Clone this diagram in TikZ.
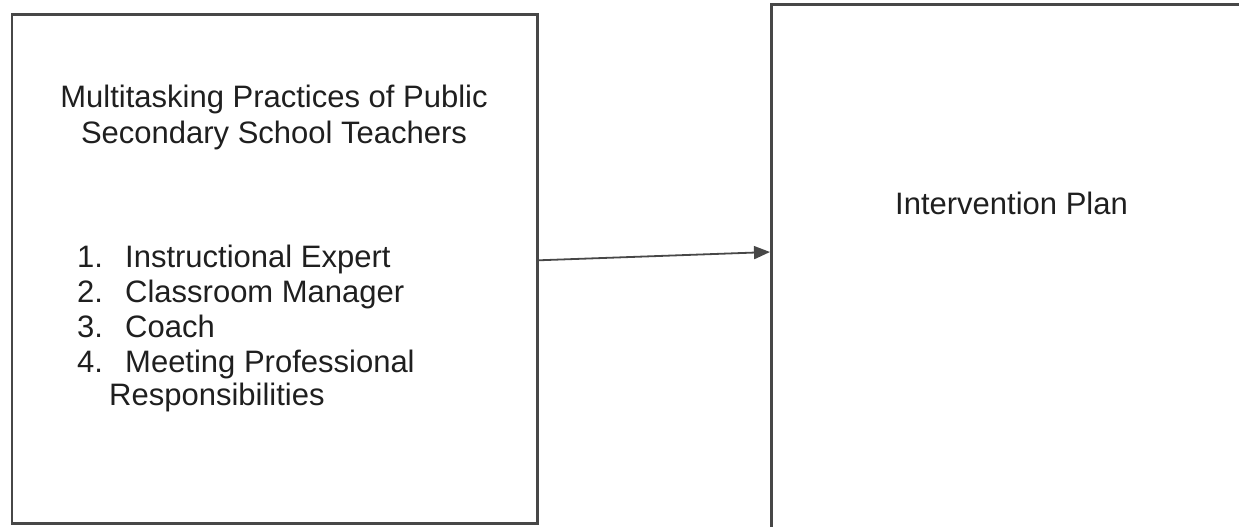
\documentclass[tikz,border=0pt]{standalone}
\usepackage{fontspec}
\setmainfont{Liberation Sans}
\usetikzlibrary{arrows.meta}
\begin{document}
\begin{tikzpicture}[x=1pt,y=-1pt,
  box/.style={draw=black!72, line width=2.6pt, inner sep=0pt, fill=none},
  txt/.style={font=\fontsize{31}{36}\selectfont, text=black!88, inner sep=0pt},
  conn/.style={draw=black!72, line width=1.8pt, -{Triangle[length=16pt,width=13pt]}}]
\useasboundingbox (0,0) rectangle (1239,527);
\clip (0,0) rectangle (1239,527);
% boxes
\node[box, minimum width=525.5pt, minimum height=508.5pt, anchor=north west] (left) at (10.5,13.5) {};
\node[box, minimum width=600pt, minimum height=600pt, anchor=north west] (plan) at (770,3) {};
% title
\node[txt, anchor=base] (t1) at (274,107) {Multitasking Practices of Public};
\node[txt, anchor=base] (t2) at (274,143) {Secondary School Teachers};
% list
\node[txt, anchor=base west] (n1) at (77,267) {1.};
\node[txt, anchor=base west] (i1) at (125,267) {Instructional Expert};
\node[txt, anchor=base west] (n2) at (77,302) {2.};
\node[txt, anchor=base west] (i2) at (125,302) {Classroom Manager};
\node[txt, anchor=base west] (n3) at (77,337) {3.};
\node[txt, anchor=base west] (i3) at (125,337) {Coach};
\node[txt, anchor=base west] (n4) at (77,372) {4.};
\node[txt, anchor=base west] (i4) at (125,372) {Meeting Professional};
\node[txt, anchor=base west] (i5) at (109,405) {Responsibilities};
% right text
\node[txt, anchor=base west] (ip) at (895,214) {Intervention Plan};
% arrow
\draw[conn] ([yshift=8.75pt]left.east) -- ([yshift=-249pt]plan.north west);
\end{tikzpicture}
\end{document}
